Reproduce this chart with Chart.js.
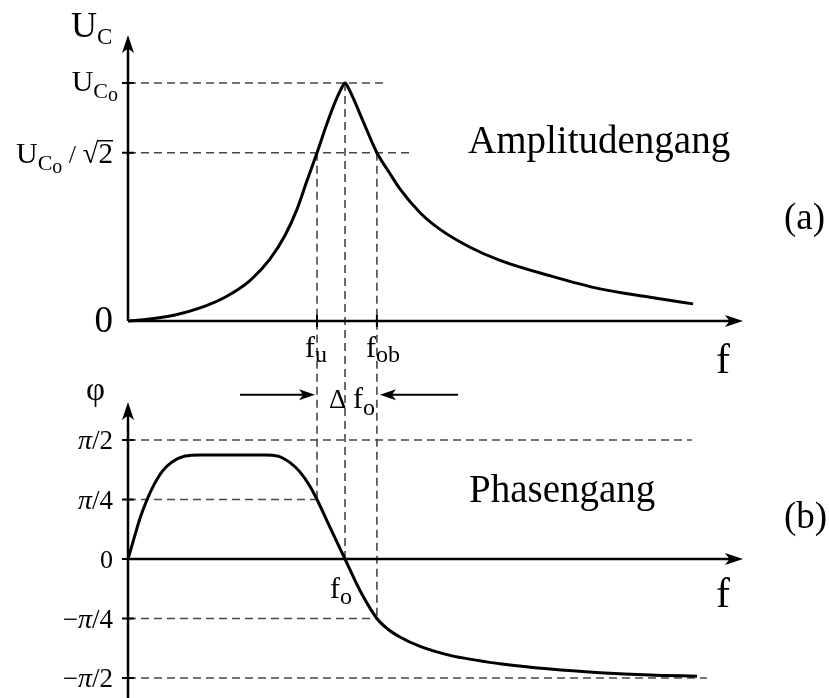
<!DOCTYPE html>
<html>
<head>
<meta charset="utf-8">
<script src="https://cdn.jsdelivr.net/npm/chart.js@4/dist/chart.umd.min.js"></script>
<style>
    body { margin: 0; background: #fff; }
    canvas { display: block; }
</style>
</head>
<body>
<canvas id="grafico" width="829" height="698"></canvas>
<script>
// frequenz normiert auf die resonanzfrequenz (f / f0)
const freqAmp = [0, 0.101, 0.217, 0.332, 0.447, 0.562, 0.654, 0.724, 0.779, 0.825, 0.871, 0.917, 0.959, 0.982, 1.0, 1.018, 1.041, 1.083, 1.147, 1.207, 1.253, 1.346, 1.438, 1.576, 1.714, 1.945, 2.175, 2.406, 2.604]
// amplitude relativ zu U_C0
const ampWerte = [0, 0.008, 0.025, 0.055, 0.100, 0.170, 0.260, 0.360, 0.470, 0.590, 0.707, 0.830, 0.930, 0.975, 1.0, 0.975, 0.930, 0.840, 0.707, 0.620, 0.555, 0.455, 0.385, 0.310, 0.255, 0.190, 0.135, 0.100, 0.072]

const freqPhase = [0, 0.028, 0.055, 0.088, 0.120, 0.157, 0.203, 0.263, 0.332, 0.631, 0.691, 0.747, 0.793, 0.839, 0.871, 0.935, 1.0, 1.069, 1.147, 1.198, 1.253, 1.346, 1.484, 1.714, 1.945, 2.175, 2.406, 2.622]
// phase in einheiten von pi/4
const phaseWerte = [0, 0.35, 0.68, 1.0, 1.25, 1.47, 1.63, 1.73, 1.75, 1.75, 1.73, 1.62, 1.46, 1.22, 1.0, 0.5, 0, -0.53, -1.0, -1.18, -1.31, -1.47, -1.62, -1.76, -1.85, -1.91, -1.95, -1.97]

// markante frequenzen
const fu = 0.871
const f0 = 1.0
const fob = 1.147

// achsenbeschriftung phase
const phaseTicks = [2, 1, 0, -1, -2]
const phaseLabels = ["π/2", "π/4", "0", "−π/4", "−π/2"]

// hilfslinien: [niveau, bis frequenz]
const ampHilfslinien = [[1, 1.194], [0.707, 1.313]]
const phaseHilfslinien = [[2, 2.599], [1, fu], [-1, fob], [-2, 2.668]]
// senkrechte linien: [frequenz, amplitude oben, phase unten]
const senkrechte = [[fu, 0.707, 1], [f0, 1, 0], [fob, 0.707, -1]]

const schrift = "'Liberation Serif', 'Times New Roman', serif"

function punkte(xs, ys) {
    return xs.map((x, i) => ({ x: x, y: ys[i] }))
}

function font(groesse, stil) {
    return (stil ? stil + " " : "") + groesse + "px " + schrift
}

// text aus mehreren teilen (fuer indizes)
function zeichneTeile(ctx, teile, x, y, align) {
    let breite = 0
    teile.forEach(t => {
        ctx.font = font(t[1], t[3])
        breite += ctx.measureText(t[0]).width
    })
    let px = x
    if (align == "right") px = x - breite
    if (align == "center") px = x - breite / 2
    teile.forEach(t => {
        ctx.font = font(t[1], t[3])
        ctx.fillText(t[0], px, y + (t[2] || 0))
        px += ctx.measureText(t[0]).width
    })
    return px
}

function pfeil(ctx, x1, y1, x2, y2, laenge, breite) {
    const w = Math.atan2(y2 - y1, x2 - x1)
    ctx.beginPath()
    ctx.moveTo(x1, y1)
    ctx.lineTo(x2 - Math.cos(w) * laenge * 0.7, y2 - Math.sin(w) * laenge * 0.7)
    ctx.stroke()
    ctx.beginPath()
    ctx.moveTo(x2, y2)
    ctx.lineTo(x2 - Math.cos(w) * laenge - Math.sin(w) * breite / 2, y2 - Math.sin(w) * laenge + Math.cos(w) * breite / 2)
    ctx.lineTo(x2 - Math.cos(w) * laenge * 0.75, y2 - Math.sin(w) * laenge * 0.75)
    ctx.lineTo(x2 - Math.cos(w) * laenge + Math.sin(w) * breite / 2, y2 - Math.sin(w) * laenge - Math.cos(w) * breite / 2)
    ctx.closePath()
    ctx.fill()
}

const achsenPlugin = {
    id: "achsen",
    beforeDatasetsDraw(chart) {
        const ctx = chart.ctx
        const x = chart.scales.x
        const yA = chart.scales.yA
        const yP = chart.scales.yP
        const x0 = x.getPixelForValue(0)

        ctx.save()
        // gestrichelte hilfslinien
        ctx.strokeStyle = "#474747"
        ctx.lineWidth = 1.6
        ctx.setLineDash([8, 5])
        ampHilfslinien.forEach(h => {
            ctx.beginPath()
            ctx.moveTo(x0, yA.getPixelForValue(h[0]))
            ctx.lineTo(x.getPixelForValue(h[1]), yA.getPixelForValue(h[0]))
            ctx.stroke()
        })
        phaseHilfslinien.forEach(h => {
            ctx.beginPath()
            ctx.moveTo(x0, yP.getPixelForValue(h[0]))
            ctx.lineTo(x.getPixelForValue(h[1]), yP.getPixelForValue(h[0]))
            ctx.stroke()
        })
        senkrechte.forEach(s => {
            const px = x.getPixelForValue(s[0])
            ctx.beginPath()
            ctx.moveTo(px, yA.getPixelForValue(s[1]))
            ctx.lineTo(px, yP.getPixelForValue(s[2]))
            ctx.stroke()
        })
        ctx.setLineDash([])

        // achsen mit pfeilen
        ctx.strokeStyle = "#000"
        ctx.fillStyle = "#000"
        ctx.lineWidth = 2.5
        const xEnde = x.getPixelForValue(x.max)
        pfeil(ctx, x0, yA.getPixelForValue(0), xEnde, yA.getPixelForValue(0), 18, 12)
        pfeil(ctx, x0, yP.getPixelForValue(0), xEnde, yP.getPixelForValue(0), 18, 12)
        pfeil(ctx, x0, yA.getPixelForValue(0), x0, yA.getPixelForValue(yA.max), 18, 12)
        pfeil(ctx, x0, yP.getPixelForValue(yP.min), x0, yP.getPixelForValue(2.64), 18, 12)

        // delta f pfeile
        ctx.lineWidth = 2
        const yd = yP.getPixelForValue(2.76)
        pfeil(ctx, x.getPixelForValue(0.516), yd, x.getPixelForValue(fu) - 2, yd, 16, 11)
        pfeil(ctx, x.getPixelForValue(1.521), yd, x.getPixelForValue(fob) + 3, yd, 16, 11)

        // teilstriche
        ctx.lineWidth = 2
        ;[1, 0.707].forEach(v => {
            const py = yA.getPixelForValue(v)
            ctx.beginPath(); ctx.moveTo(x0 - 6, py); ctx.lineTo(x0 + 6, py); ctx.stroke()
        })
        phaseTicks.forEach(v => {
            const py = yP.getPixelForValue(v)
            ctx.beginPath(); ctx.moveTo(x0 - 6, py); ctx.lineTo(x0 + 6, py); ctx.stroke()
        })
        ;[fu, fob].forEach(v => {
            const px = x.getPixelForValue(v)
            const py = yA.getPixelForValue(0)
            ctx.beginPath(); ctx.moveTo(px, py - 6); ctx.lineTo(px, py + 6); ctx.stroke()
        })
        ctx.restore()
    },
    afterDraw(chart) {
        const ctx = chart.ctx
        const x = chart.scales.x
        const yA = chart.scales.yA
        const yP = chart.scales.yP
        const x0 = x.getPixelForValue(0)

        ctx.save()
        ctx.fillStyle = "#000"
        ctx.textBaseline = "alphabetic"

        // amplitudengang
        zeichneTeile(ctx, [["U", 36], ["C", 23, 7]], 71, 37)
        const y1 = yA.getPixelForValue(1)
        zeichneTeile(ctx, [["U", 30], ["C", 22, 7], ["o", 20, 10]], x0 - 10, y1 + 8, "right")
        const y2 = yA.getPixelForValue(0.707)
        const ende = zeichneTeile(ctx, [["U", 30], ["C", 22, 7], ["o", 20, 10], [" / ", 26], ["√2", 29]], x0 - 15, y2 + 10, "right")
        ctx.font = font(29)
        const w2 = ctx.measureText("2").width
        ctx.lineWidth = 1.5
        ctx.beginPath(); ctx.moveTo(ende - w2 - 1, y2 - 12); ctx.lineTo(ende, y2 - 12); ctx.stroke()

        zeichneTeile(ctx, [["0", 37]], x0 - 15, yA.getPixelForValue(0) + 11, "right")

        const yAchse = yA.getPixelForValue(0)
        zeichneTeile(ctx, [["f", 30], ["u", 24, 5]], x.getPixelForValue(fu) - 12, yAchse + 36)
        zeichneTeile(ctx, [["f", 30], ["ob", 24, 5]], x.getPixelForValue(fob) - 11, yAchse + 36)
        zeichneTeile(ctx, [["f", 42]], 716, yAchse + 52)

        const yd = yP.getPixelForValue(2.76)
        zeichneTeile(ctx, [["Δ ", 27], ["f", 30], ["o", 24, 7]], x.getPixelForValue(f0) + 7, yd + 13, "center")

        zeichneTeile(ctx, [["Amplitudengang", 39]], 468, 153)
        zeichneTeile(ctx, [["(a)", 37]], 784, 229)

        // phasengang
        zeichneTeile(ctx, [["φ", 33]], 86, 400)
        phaseTicks.forEach((v, i) => {
            const t = phaseLabels[i]
            const teile = []
            if (t.startsWith("−")) teile.push(["−", 27])
            if (t.includes("π")) {
                teile.push(["π", 28, 0, "italic"])
                teile.push([t.substring(t.indexOf("π") + 1), 27])
            } else {
                teile.push([t, 26])
            }
            zeichneTeile(ctx, teile, x0 - 15, yP.getPixelForValue(v) + 9, "right")
        })
        const yNull = yP.getPixelForValue(0)
        zeichneTeile(ctx, [["f", 30], ["o", 24, 6]], x.getPixelForValue(f0) - 15, yNull + 39)
        zeichneTeile(ctx, [["f", 42]], 716, yNull + 48)
        zeichneTeile(ctx, [["Phasengang", 39]], 469, 502)
        zeichneTeile(ctx, [["(b)", 37]], 784, 528)
        ctx.restore()
    }
}

new Chart(document.getElementById("grafico"), {
    type: "line",
    data: {
        datasets: [{
            label: "Amplitudengang",
            data: punkte(freqAmp, ampWerte),
            yAxisID: "yA",
            borderColor: "#000",
            borderWidth: 3,
            pointRadius: 0,
            cubicInterpolationMode: "monotone",
            fill: false
        }, {
            label: "Phasengang",
            data: punkte(freqPhase, phaseWerte),
            yAxisID: "yP",
            borderColor: "#000",
            borderWidth: 3,
            pointRadius: 0,
            cubicInterpolationMode: "monotone",
            fill: false
        }]
    },
    options: {
        responsive: false,
        animation: false,
        events: [],
        layout: { padding: { left: 128, right: 86, top: 35, bottom: 0 } },
        plugins: { legend: { display: false }, tooltip: { enabled: false } },
        scales: {
            x: { type: "linear", display: false, min: 0, max: 2.834 },
            // beide y achsen teilen sich die flaeche, bereiche so gewaehlt dass die diagramme untereinander liegen
            yA: { type: "linear", display: false, min: -1.584, max: 1.2017 },
            yP: { type: "linear", display: false, min: -2.336, max: 8.807 }
        }
    },
    plugins: [achsenPlugin]
});
</script>
</body>
</html>
